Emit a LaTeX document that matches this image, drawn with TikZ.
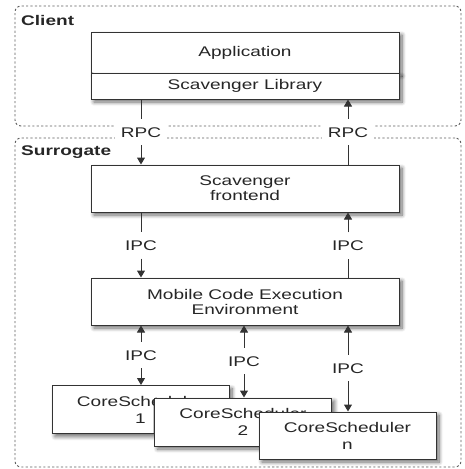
\documentclass[tikz,border=0pt]{standalone}
\usepackage{fontspec}
\setmainfont[FakeStretch=1.36]{Liberation Sans}
\usetikzlibrary{arrows.meta,shadows.blur}
\definecolor{txt}{HTML}{262626}
\definecolor{ln}{HTML}{333333}
\definecolor{dashc}{HTML}{5E5E5E}
\begin{document}
\begin{tikzpicture}[x=1pt,y=-1pt,
  region/.style={draw=dashc, line width=0.9pt, dash pattern=on 2.2pt off 2.2pt, rounded corners=6pt, inner sep=0pt},
  box/.style={draw=ln, line width=1pt, fill=white, inner sep=0pt, align=center,
    font=\fontsize{14}{15}\selectfont, text=txt,
    blur shadow={shadow xshift=3pt, shadow yshift=-3pt, shadow blur steps=8, shadow blur radius=4pt, shadow opacity=60}},
  widebox/.style={box, minimum width=308pt},
  csbox/.style={box, minimum width=177pt, minimum height=48pt, font=\fontsize{14}{17}\selectfont},
  lbl/.style={fill=white, text=txt, font=\fontsize{14}{15}\selectfont, text height=10pt, text depth=0pt, inner xsep=6pt, inner ysep=8pt},
  title/.style={text=txt, font=\bfseries\fontsize{14}{15}\selectfont, inner sep=0pt, anchor=west},
  conn/.style={draw=ln, line width=1pt},
  tip/.style={conn, -{Triangle[width=8pt,length=7pt]}}
]
\useasboundingbox (0,0) rectangle (464,469);
% regions
\node[region, minimum width=446pt, minimum height=120pt] (client) at (238,66) {};
\node[region, minimum width=446pt, minimum height=329pt] (surr) at (238,302.5) {};
\node[title] (clientt) at (21,20) {Client};
\node[title] (surrt) at (21,152) {Surrogate};
% boxes
\node[widebox, minimum height=41pt] (app) at (245,52.5) {Application};
\node[widebox, minimum height=26pt] (lib) at (245,86) {Scavenger Library};
\node[widebox, minimum height=47pt] (fe) at (245,188.5) {Scavenger\\frontend};
\node[widebox, minimum height=47pt] (mcee) at (245,301.5) {Mobile Code Execution\\Environment};
\node[csbox] (cs1) at (140.5,409.5) {CoreScheduler\\1};
\node[csbox] (cs2) at (243,422) {CoreScheduler\\2};
\node[csbox, minimum height=47pt] (csn) at (347.5,435.5) {CoreScheduler\\n};
% labels
\node[lbl] (rpcL) at (141,132) {RPC};
\node[lbl] (rpcR) at (348,132) {RPC};
\node[lbl] (ipcL) at (141,245.5) {IPC};
\node[lbl] (ipcR) at (348,245.5) {IPC};
\node[lbl] (ipc1) at (141,355) {IPC};
\node[lbl] (ipc2) at (244,361) {IPC};
\node[lbl] (ipc3) at (348,368) {IPC};
% connectors
\draw[conn] (lib.south -| rpcL) -- (rpcL);
\draw[tip] (rpcL) -- (fe.north -| rpcL);
\draw[tip] (rpcR) -- (lib.south -| rpcR);
\draw[conn] (fe.north -| rpcR) -- (rpcR);
\draw[conn] (fe.south -| ipcL) -- (ipcL);
\draw[tip] (ipcL) -- (mcee.north -| ipcL);
\draw[tip] (ipcR) -- (fe.south -| ipcR);
\draw[conn] (mcee.north -| ipcR) -- (ipcR);
\draw[tip] (ipc1) -- (mcee.south -| ipc1);
\draw[tip] (ipc1) -- (cs1.north -| ipc1);
\draw[tip] (ipc2) -- (mcee.south -| ipc2);
\draw[tip] (ipc2) -- (cs2.north -| ipc2);
\draw[tip] (ipc3) -- (mcee.south -| ipc3);
\draw[tip] (ipc3) -- (csn.north -| ipc3);
\end{tikzpicture}
\end{document}
